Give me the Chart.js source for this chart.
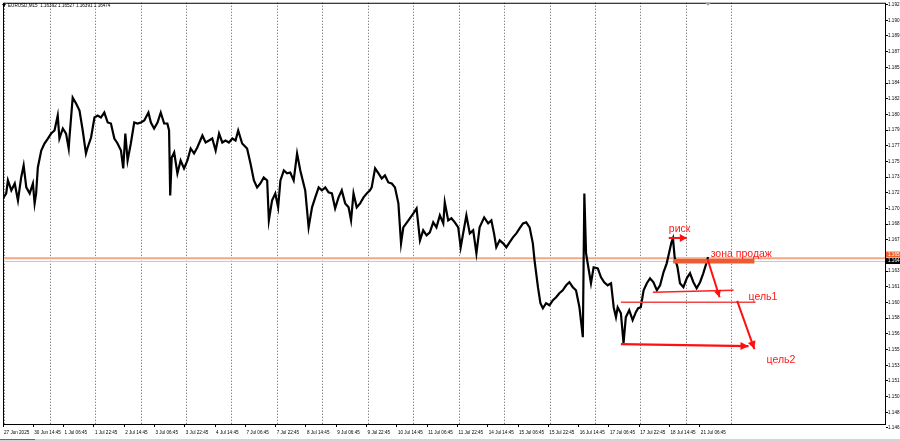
<!DOCTYPE html>
<html>
<head>
<meta charset="utf-8">
<script src="https://cdn.jsdelivr.net/npm/chart.js@4.4.0/dist/chart.umd.min.js"></script>
<style>
  html, body { margin: 0; padding: 0; background: #fff; }
  canvas { display: block; }
</style>
</head>
<body>
<canvas id="priceChart" width="900" height="441"></canvas>
<script>
// time axis is in trading hours counted from 27 Jun 22:45
const hours = [
  0.0, 1.7, 2.6, 4.4, 6.2, 7.9, 9.6, 10.9, 12.3, 14.1,
  15.8, 16.7, 17.5, 18.4, 20.2, 21.9, 23.7, 25.4, 27.2, 28.9,
  29.8, 31.6, 33.3, 34.7, 35.1, 36.8, 38.6, 40.4, 42.1, 43.8,
  44.7, 46.5, 48.3, 50.0, 51.7, 53.5, 55.3, 57.0, 58.8, 60.5,
  62.3, 63.5, 64.6, 65.8, 67.5, 69.3, 71.1, 72.8, 74.6, 76.8,
  78.1, 79.8, 81.6, 83.3, 85.1, 86.8, 87.7, 88.3, 89.1, 90.4,
  92.1, 93.8, 95.6, 97.4, 99.1, 100.9, 102.6, 105.3, 107.0, 108.8,
  110.5, 112.3, 114.1, 115.8, 117.5, 119.3, 121.1, 122.8, 124.2, 126.3,
  128.9, 130.7, 132.5, 134.2, 135.9, 137.7, 139.5, 140.4, 142.1, 143.8,
  145.3, 146.5, 148.3, 150.0, 151.7, 153.5, 155.3, 157.0,
  157.9, 159.6, 161.4, 163.2, 164.9, 166.7, 168.4, 170.2, 171.9, 173.7,
  175.4, 177.2, 178.9, 180.7, 182.5, 183.8, 185.1, 186.8, 188.6, 190.4,
  192.1, 193.8, 194.7, 196.5, 198.3, 200.0, 201.7, 203.5, 205.3, 207.0,
  208.8, 210.2, 211.4, 214.1, 216.7, 218.4, 220.2, 221.9, 223.7, 225.4,
  227.2, 228.9, 230.7, 232.5, 233.3, 235.1, 236.8, 238.6, 240.4, 241.7,
  243.0, 244.7, 246.5, 248.3, 250.0, 251.7, 254.1, 256.2, 257.9, 259.3,
  260.5, 262.3, 264.1, 265.8, 267.5, 269.3, 271.1, 272.8, 274.6, 276.3,
  278.1, 279.8, 280.7, 282.5, 283.8, 285.1, 286.8, 288.6, 290.4, 292.1,
  293.8, 295.6, 297.4, 299.1, 300.9, 302.6, 304.4, 306.2, 307.0, 307.9,
  309.1, 310.5, 311.9, 314.1,
  315.8, 317.5, 319.3, 321.1, 322.5, 323.7, 324.6, 326.3, 327.7, 328.9,
  330.7, 332.5, 334.2, 335.4, 336.8, 338.3, 340.0, 341.7, 343.5, 345.3,
  347.0, 348.8, 350.5, 351.7, 353.0, 353.8, 354.7, 356.2, 357.5, 359.3,
  361.1, 362.8, 364.6, 366.3, 368.1, 369.8, 371.6, 372.3
];

const prices = [
  1.17109, 1.17163, 1.17304, 1.17196, 1.17271, 1.17087, 1.17336, 1.17466, 1.17228, 1.17163,
  1.17271, 1.17055, 1.17163, 1.17444, 1.17628, 1.17704, 1.17758, 1.17812, 1.17845, 1.18007,
  1.17758, 1.17867, 1.17812, 1.17650, 1.17769, 1.18202, 1.18137, 1.18061, 1.17845, 1.17596,
  1.17661, 1.17769, 1.17986, 1.18007, 1.17986, 1.18040, 1.17932, 1.17921, 1.17758, 1.17704,
  1.17628, 1.17434, 1.17812, 1.17520, 1.17704, 1.17932, 1.17921, 1.17932, 1.17953, 1.18040,
  1.17932, 1.17867, 1.17932, 1.18040, 1.17921, 1.17921, 1.17845, 1.17141, 1.17553, 1.17607,
  1.17380, 1.17520, 1.17434, 1.17520, 1.17650, 1.17596, 1.17661, 1.17791, 1.17715, 1.17737,
  1.17758, 1.17628, 1.17812, 1.17715, 1.17737, 1.17715, 1.17758, 1.17737, 1.17845, 1.17704,
  1.17650, 1.17488, 1.17304, 1.17228, 1.17271, 1.17336, 1.17304, 1.16871, 1.17087, 1.17163,
  1.17012, 1.17304, 1.17412, 1.17380, 1.17390, 1.17304, 1.17596, 1.17412,
  1.17336, 1.17196, 1.16795, 1.17012, 1.17120, 1.17228, 1.17196, 1.17228, 1.17174, 1.17163,
  1.17001, 1.17120, 1.17196, 1.17055, 1.17012, 1.16871, 1.17163, 1.17012, 1.17055, 1.17120,
  1.17163, 1.17196, 1.17228, 1.17434, 1.17380, 1.17325, 1.17358, 1.17282, 1.17271, 1.17228,
  1.17055, 1.16622, 1.16795, 1.16871, 1.16947, 1.17001, 1.16654, 1.16763, 1.16709, 1.16741,
  1.16849, 1.16795, 1.16925, 1.16838, 1.17066, 1.16871, 1.16893, 1.16849, 1.16795, 1.16579,
  1.16730, 1.16925, 1.16730, 1.16763, 1.16514, 1.16795, 1.16903, 1.16838, 1.16871, 1.16730,
  1.16579, 1.16654, 1.16622, 1.16579, 1.16633, 1.16687, 1.16730, 1.16784, 1.16838, 1.16849,
  1.16795, 1.16622, 1.16438, 1.16146, 1.15972, 1.15918, 1.15972, 1.15951, 1.16005, 1.16037,
  1.16081, 1.16113, 1.16167, 1.16200, 1.16146, 1.16113, 1.15929, 1.15605, 1.17163, 1.16514,
  1.16362, 1.16189, 1.16362, 1.16351,
  1.16254, 1.16200, 1.16167, 1.16189, 1.15929, 1.15821, 1.15929, 1.15864, 1.15540, 1.15821,
  1.15897, 1.15789, 1.15875, 1.15918, 1.15929, 1.16113, 1.16189, 1.16243, 1.16200, 1.16113,
  1.16167, 1.16308, 1.16405, 1.16514, 1.16633, 1.16676, 1.16470, 1.16362, 1.16189, 1.16146,
  1.16243, 1.16297, 1.16200, 1.16135, 1.16200, 1.16297, 1.16416, 1.16474
];

const xTickLabels = [
  "27 Jun 2025", "30 Jun 14:45", "1 Jul 06:45", "1 Jul 22:45", "2 Jul 14:45", "3 Jul 06:45",
  "3 Jul 22:45", "4 Jul 14:45", "7 Jul 06:45", "7 Jul 22:45", "8 Jul 14:45", "9 Jul 06:45",
  "9 Jul 22:45", "10 Jul 14:45", "11 Jul 06:45", "11 Jul 22:45", "14 Jul 14:45", "15 Jul 06:45",
  "15 Jul 22:45", "16 Jul 14:45", "17 Jul 06:45", "17 Jul 22:45", "18 Jul 14:45", "21 Jul 06:45"
];
const xTickHours = xTickLabels.map((_, i) => i * 16);
// day separators (dotted)
const gridHours = [0.9, 24.9, 48.9, 72.9, 96.9, 120.9, 144.9, 168.9, 192.9, 216.9,
  240.9, 264.9, 288.9, 312.9, 336.9, 360.9, 384.9];

const yTickLabels = [
  "1.146", "1.148", "1.150", "1.151", "1.153", "1.155", "1.156", "1.158", "1.160", "1.161",
  "1.163", "1.165", "1.167", "1.168", "1.170", "1.172", "1.173", "1.175", "1.177", "1.179",
  "1.180", "1.182", "1.184", "1.185", "1.187", "1.189", "1.190", "1.192"
];
const yTickValues = yTickLabels.map((_, i) => 1.1462 + i * 0.0017);

// horizontal levels on the right edge
const levelPrice = 1.16460;   // orange line
const bidPrice = 1.16430;     // grey line
const tagPrices = [1.1650, 1.1643];
const tagLabels = ["1.165", "1.164"];
const tagColors = ["#f0602a", "#000000"];

// hand drawn marks: [hour1, price1, hour2, price2]
const zoneSeg = [353.9, 1.16427, 396.8, 1.16427];
const supportSeg = [343.2, 1.16092, 385.8, 1.16113];
const target1Seg = [326.3, 1.15983, 397.4, 1.15983];
const target2Arrow = [326.3, 1.15529, 393.7, 1.15507];
const riskArrow = [351.6, 1.16680, 361.1, 1.16680];
const dropArrow1 = [372.1, 1.16449, 378.4, 1.16037];
const dropArrow2 = [387.7, 1.15998, 396.8, 1.15475];

const noteText = ["риск", "зона продаж", "цель1", "цель2"];
const noteHour = [351.6, 373.7, 393.7, 403.2];
const notePrice = [1.16746, 1.16470, 1.16005, 1.15323];

const titleText = "EURUSD,M15  1.16392 1.16527 1.16391 1.16474";

const tinyFont = { family: "Liberation Sans", size: 4.6 };

function arrowHead(ctx, x1, y1, x2, y2, len, half) {
    const a = Math.atan2(y2 - y1, x2 - x1);
    ctx.beginPath();
    ctx.moveTo(x2, y2);
    ctx.lineTo(x2 - len * Math.cos(a) + half * Math.sin(a), y2 - len * Math.sin(a) - half * Math.cos(a));
    ctx.lineTo(x2 - len * Math.cos(a) - half * Math.sin(a), y2 - len * Math.sin(a) + half * Math.cos(a));
    ctx.closePath();
    ctx.fill();
}

const marksPlugin = {
    id: "marks",
    beforeDatasetsDraw(chart) {
        const { ctx, chartArea: a, scales: { y } } = chart;
        ctx.save();
        ctx.strokeStyle = "#f7a683";
        ctx.lineWidth = 2;
        ctx.beginPath();
        ctx.moveTo(a.left, y.getPixelForValue(levelPrice));
        ctx.lineTo(a.right, y.getPixelForValue(levelPrice));
        ctx.stroke();
        ctx.strokeStyle = "#c8c8c8";
        ctx.lineWidth = 1;
        ctx.beginPath();
        ctx.moveTo(a.left, Math.round(y.getPixelForValue(bidPrice)) + 0.5);
        ctx.lineTo(a.right, Math.round(y.getPixelForValue(bidPrice)) + 0.5);
        ctx.stroke();
        ctx.restore();
    },
    afterDatasetsDraw(chart) {
        const { ctx, scales: { x, y } } = chart;
        const px = (s) => [x.getPixelForValue(s[0]), y.getPixelForValue(s[1]),
                           x.getPixelForValue(s[2]), y.getPixelForValue(s[3])];
        const line = (s, color, w) => {
            const p = px(s);
            ctx.strokeStyle = color;
            ctx.lineWidth = w;
            ctx.beginPath();
            ctx.moveTo(p[0], p[1]);
            ctx.lineTo(p[2], p[3]);
            ctx.stroke();
            return p;
        };
        ctx.save();
        ctx.lineCap = "butt";
        line(zoneSeg, "#ec5a36", 4.5);
        line(supportSeg, "#ff2020", 1.6);
        line(target1Seg, "#f04848", 1.6);

        ctx.fillStyle = "#ff1010";
        let p = line(target2Arrow, "#ff1010", 2.4);
        arrowHead(ctx, p[0], p[1], p[2], p[3], 8, 4);
        p = line(riskArrow, "#ff1010", 2);
        arrowHead(ctx, p[0], p[1], p[2], p[3], 7, 4);
        p = line(dropArrow1, "#ff1010", 2);
        arrowHead(ctx, p[0], p[1], p[2], p[3], 7, 3.5);
        p = line(dropArrow2, "#ff1010", 2);
        arrowHead(ctx, p[0], p[1], p[2], p[3], 8, 4);

        ctx.font = "10.5px 'Liberation Sans'";
        ctx.textAlign = "left";
        ctx.textBaseline = "alphabetic";
        ctx.fillStyle = "#ff1a1a";
        noteText.forEach((t, i) => {
            ctx.fillText(t, x.getPixelForValue(noteHour[i]), y.getPixelForValue(notePrice[i]));
        });
        ctx.restore();
    },
    afterDraw(chart) {
        const { ctx, chartArea: a, scales: { x, y } } = chart;
        ctx.save();
        // frame
        ctx.strokeStyle = "#000";
        ctx.lineWidth = 1;
        ctx.strokeRect(a.left + 0.5, a.top + 0.5, a.right - a.left - 1, a.bottom - a.top);

        // price tags on the right axis
        ctx.font = "4.6px 'Liberation Sans'";
        ctx.textBaseline = "middle";
        ctx.textAlign = "left";
        tagPrices.forEach((v, i) => {
            const cy = y.getPixelForValue(v);
            ctx.fillStyle = tagColors[i];
            ctx.fillRect(a.right, cy - 3, 900 - a.right, 6);
            ctx.fillStyle = "#fff";
            ctx.fillText(tagLabels[i], a.right + 2, cy);
        });

        // symbol line
        ctx.fillStyle = "#000";
        ctx.beginPath();
        ctx.moveTo(2, 4);
        ctx.lineTo(6, 4);
        ctx.lineTo(4, 7);
        ctx.closePath();
        ctx.fill();
        ctx.fillText(titleText, 8, 6);

        // chart shift marker
        const sx = x.getPixelForValue(hours[hours.length - 1]);
        ctx.fillStyle = "#a0a0a0";
        ctx.beginPath();
        ctx.moveTo(sx - 3, a.top);
        ctx.lineTo(sx + 3, a.top);
        ctx.lineTo(sx, a.top + 3);
        ctx.closePath();
        ctx.fill();

        // tab strip under the chart
        ctx.fillStyle = "#d4d4d4";
        ctx.fillRect(0, 439, 900, 2);
        ctx.fillStyle = "#6a6a6a";
        ctx.fillRect(0, 439, 35, 1);
        ctx.restore();
    }
};

const xMax = 466.3;

new Chart(document.getElementById("priceChart").getContext("2d"), {
    type: "line",
    data: {
        datasets: [{
            data: hours.map((h, i) => ({ x: h, y: prices[i] })),
            borderColor: "#000",
            borderWidth: 2.2,
            borderJoinStyle: "miter",
            pointRadius: 0,
            tension: 0,
            xAxisID: "x",
            yAxisID: "y",
        }],
    },
    options: {
        responsive: false,
        animation: false,
        layout: { padding: { top: 2, left: 0, right: 0, bottom: 0 } },
        plugins: { legend: { display: false }, tooltip: { enabled: false } },
        scales: {
            xg: {
                type: "linear",
                position: "bottom",
                min: 0,
                max: xMax,
                afterBuildTicks: (s) => { s.ticks = gridHours.map((v) => ({ value: v })); },
                afterFit: (s) => { s.height = 0; },
                ticks: { display: false },
                grid: { drawTicks: false, color: "#5a5a5a", lineWidth: 1 },
                border: { display: false, dash: [1, 2] },
            },
            x: {
                type: "linear",
                position: "bottom",
                min: 0,
                max: xMax,
                afterBuildTicks: (s) => { s.ticks = xTickHours.map((v) => ({ value: v })); },
                afterFit: (s) => { s.height = 17; },
                ticks: {
                    callback: (v, i) => xTickLabels[i],
                    font: tinyFont,
                    color: "#000",
                    align: "start",
                    labelOffset: 1,
                    maxRotation: 0,
                    autoSkip: false,
                    padding: 3,
                },
                grid: { drawOnChartArea: false, tickLength: 3, color: "#000" },
                border: { display: false },
            },
            y: {
                position: "right",
                min: 1.14663,
                max: 1.19230,
                afterBuildTicks: (s) => { s.ticks = yTickValues.map((v) => ({ value: v })); },
                afterFit: (s) => { s.width = 14; },
                ticks: {
                    callback: (v, i) => yTickLabels[i],
                    font: tinyFont,
                    color: "#000",
                    padding: 0,
                    autoSkip: false,
                },
                grid: { drawOnChartArea: false, tickLength: 2, color: "#000" },
                border: { display: false },
            },
        },
    },
    plugins: [marksPlugin],
});
</script>
</body>
</html>
